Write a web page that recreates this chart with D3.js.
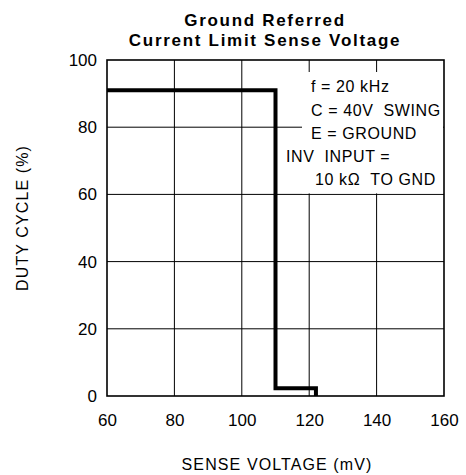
<!DOCTYPE html>
<html><head><meta charset="utf-8">
<script src="https://cdn.jsdelivr.net/npm/d3@7"></script>
<style>
body{margin:0;background:#fff;}
text{font-family:"Liberation Sans",Arial,sans-serif;fill:#000;}
</style></head>
<body>
<svg id="c" width="466" height="475"></svg>
<script>
const titleLines = ["Ground Referred", "Current Limit Sense Voltage"];
const xLabel = "SENSE VOLTAGE (mV)";
const yLabel = "DUTY CYCLE (%)";
const xTicks = [60, 80, 100, 120, 140, 160];
const yTicks = [0, 20, 40, 60, 80, 100];
const senseVoltage = [60, 110, 110, 122, 122];
const dutyCycle = [91, 91, 2.3, 2.3, 0];
const notes = ["f = 20 kHz", "C = 40V  SWING", "E = GROUND", "INV  INPUT =", "10 k\u03A9  TO GND"];

const svg = d3.select("#c");
const m = {l:107, r:444, t:60, b:396};
const x = d3.scaleLinear().domain([60,160]).range([m.l, m.r]);
const y = d3.scaleLinear().domain([0,100]).range([m.b, m.t]);

// title
svg.append("g").selectAll("text").data(titleLines).join("text")
  .attr("x", 265).attr("y", (d,i)=> 26 + i*19.6)
  .attr("text-anchor","middle").style("font-weight","bold")
  .style("font-size","17px").style("letter-spacing","1.7px").text(d=>d);

// grid
const g = svg.append("g");
g.selectAll(".vx").data(xTicks.slice(1,-1)).join("line")
  .attr("x1", d=>x(d)).attr("x2", d=>x(d)).attr("y1", m.t).attr("y2", m.b)
  .attr("stroke","#000").attr("stroke-width",1);
g.selectAll(".hy").data(yTicks.slice(1,-1)).join("line")
  .attr("x1", m.l).attr("x2", m.r).attr("y1", d=>y(d)).attr("y2", d=>y(d))
  .attr("stroke","#000").attr("stroke-width",1);

// note box mask
svg.append("rect").attr("x",302).attr("y",72).attr("width",m.r-302-1).attr("height",y(60)-72-1)
  .attr("fill","#fff");

// frame
svg.append("rect").attr("x",m.l).attr("y",m.t).attr("width",m.r-m.l).attr("height",m.b-m.t)
  .attr("fill","none").attr("stroke","#000").attr("stroke-width",1.6);

// axes labels
const xa = svg.append("g").attr("transform",`translate(0,${m.b})`)
  .call(d3.axisBottom(x).tickValues(xTicks).tickSize(0).tickPadding(18).tickFormat(d3.format("d")));
xa.select(".domain").remove();
xa.selectAll("text").style("font-size","17px").style("font-family","Liberation Sans, Arial, sans-serif");
const ya = svg.append("g").attr("transform",`translate(${m.l},0)`)
  .call(d3.axisLeft(y).tickValues(yTicks).tickSize(0).tickPadding(10).tickFormat(d3.format("d")));
ya.select(".domain").remove();
ya.selectAll("text").style("font-size","17px").style("font-family","Liberation Sans, Arial, sans-serif");

// data line
const pts = senseVoltage.map((v,i)=>[v, dutyCycle[i]]);
svg.append("path").datum(pts)
  .attr("d", d3.line().x(d=>x(d[0])).y(d=>y(d[1])))
  .attr("fill","none").attr("stroke","#000").attr("stroke-width",4).attr("stroke-linejoin","miter").attr("stroke-linecap","butt");

// notes
const noteX = [311, 311, 311, 286, 315];
const noteY = [92, 116, 138.5, 161.5, 185];
svg.append("g").selectAll("text").data(notes).join("text")
  .attr("x",(d,i)=>noteX[i]).attr("y",(d,i)=>noteY[i])
  .attr("xml:space","preserve").style("white-space","pre")
  .style("font-size","16px").style("letter-spacing","0.6px").text(d=>d);

// axis titles
svg.append("text").attr("x", 277).attr("y", 470).attr("text-anchor","middle")
  .style("font-size","16px").style("letter-spacing","1.1px").text(xLabel);
svg.append("text").attr("transform","translate(28,218) rotate(-90)").attr("text-anchor","middle")
  .style("font-size","16px").style("letter-spacing","1.1px").text(yLabel);
</script>
</body></html>
